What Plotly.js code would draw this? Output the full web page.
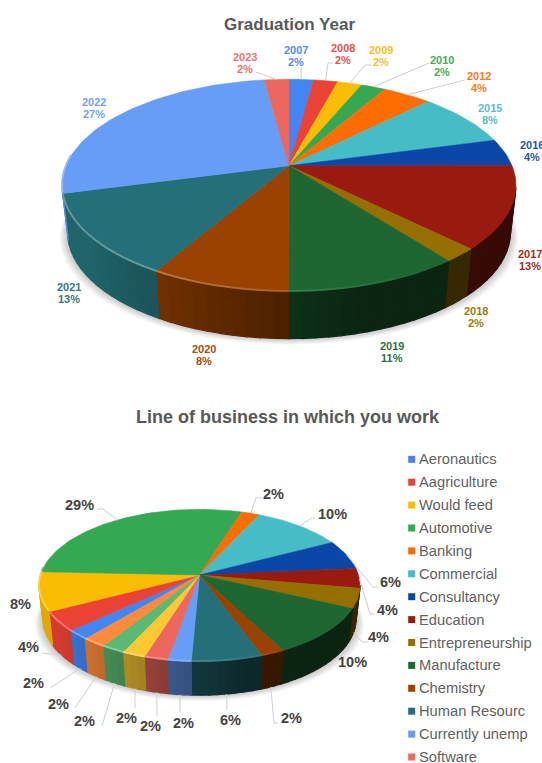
<!DOCTYPE html>
<html>
<head>
<meta charset="utf-8">
<script src="https://cdn.plot.ly/plotly-3.0.1.min.js"></script>
<style>html,body{margin:0;padding:0;background:#fff;overflow:hidden}#chart{width:542px;height:763px}</style>
</head>
<body>
<div id="chart"></div>
<script>
// Survey results: graduation year and line of business.
const gradYears = ['2007','2008','2009','2010','2012','2015','2016','2017','2018','2019','2020','2021','2022','2023'];
const gradShare = [2.08,2.08,2.08,2.08,4.17,8.33,4.17,12.5,2.08,10.5,8.33,12.5,27.08,2.08];
const gradColors = ['#4285f4','#ea4335','#fbbc04','#34a853','#ff6d01','#46bdc6','#0b47a8','#991b10','#957000','#1e6632','#9a4200','#257078','#669df6','#ee675c'];

const businessNames = ['Aeronautics','Aagriculture','Would feed','Automotive','Banking','Commercial','Consultancy','Education','Entrepreneurship','Manufacture','Chemistry','Human Resourc','Currently unemp','Software'];
const businessShare = [2.08,4.17,8.33,29.17,2.08,10.42,6.25,4.17,4.17,10.42,2.08,6.25,2.08,2.08,2.08,2.08,2.08];
const businessColors = ['#4285f4','#ea4335','#fbbc04','#34a853','#ff6d01','#46bdc6','#0b47a8','#991b10','#957000','#1e6632','#9a4200','#257078','#669df6','#ee675c','#fcc934','#5bb974','#ff8a3c'];

// Disc geometry in page pixels: the tilt k makes the near half of the disc larger than the far half.
const gradDisc = {cx:289, cy:165.7, A:223, B:102.5, k:0.1864, depth:47, base:0.975, start:0};
const bizDisc  = {cx:199.5, cy:575, A:159, B:74.75, k:0.1378, depth:33.5, base:0.975, start:220};

// Label placement: [centre x, centre y of first line].
const gradLabelAt = [[296,49.5],[343,47.5],[381,49.5],[442,59.5],[479,76],[490,108],[532,145],[530,254],[476,311],[392,346],[204,349],[69,287],[94,102],[245,57]];
const bizLabelAt = [[33,683],[28,647],[20,604],[79,505],[273,494],[332,514],[390,582],[387,610],[378,637],[352,662],[291,718],[230,720],[183,723],[150,726],[126,718],[84,721],[58,704]];

// Leader routes from a slice's edge to its label.
const gradLeaders = {
  0:{from:'rim',via:[[301,67]]},
  1:{from:'rim',via:[[328,63],[334,63]]},
  2:{from:'rim',via:[[365,65],[372,65]]},
  3:{from:'rim',via:[[429,63]]},
  4:{from:'rim',via:[[465,80]]},
  13:{from:'rim',via:[[256,72]]}
};
const bizLeaders = {
  0:{from:'base',via:[[50,688]]},
  1:{from:'base',via:[[42,653]]},
  3:{from:'rim',via:[[103,509],[97,509]]},
  4:{from:'rim',via:[[256,498],[262,498]]},
  5:{from:'rim',via:[[312,518],[315,518]]},
  6:{from:'rim',via:[[373,587],[378,587]]},
  7:{from:'rim',via:[[370,614],[374,614]]},
  8:{from:'base',via:[[362,642],[368,642]]},
  10:{from:'base',via:[[274,723],[278,723]]},
  11:{from:'base',via:[[227,710]]},
  12:{from:'base',via:[[180,713]]},
  13:{from:'base',via:[[157,716]]},
  14:{from:'base',via:[[135,708]]},
  15:{from:'base',via:[[102,726]]},
  16:{from:'base',via:[[75,708]]}
};

const traces = [];
const annotations = [];
const FONT = 'Liberation Sans, Arial, sans-serif';

function hexToRgb(h){ return [1,3,5].map(i => parseInt(h.substr(i,2),16)); }
function rgbStr(c){ return 'rgb(' + c.map(v => Math.round(Math.min(255,Math.max(0,v)))).join(',') + ')'; }
function scale(h,f){ return rgbStr(hexToRgb(h).map(v => v*f)); }
function tint(h,a){ return rgbStr(hexToRgb(h).map(v => v+(255-v)*a)); }
function clamp(v,a,b){ return Math.max(a,Math.min(b,v)); }

// Point on the rim for a clockwise angle measured from twelve o'clock.
function rim(d,t){
  const u = Math.sin(t), v = Math.cos(t), w = 1 + d.k*v;
  return [d.cx + d.A*u/w, d.cy - d.B*v/w];
}
function floorPt(d,t){
  const p = rim(d,t);
  return [d.cx + (p[0]-d.cx)*d.base, p[1] + d.depth];
}

function poly(xs,ys,color,lw){
  traces.push({type:'scatter',mode:'lines',x:xs,y:ys,fill:'toself',fillcolor:color,
    line:{color:color,width:lw},hoverinfo:'skip',showlegend:false});
}
function stroke(xs,ys,color,width){
  traces.push({type:'scatter',mode:'lines',x:xs,y:ys,line:{color:color,width:width},
    hoverinfo:'skip',showlegend:false});
}

function drawShadow(d){
  const xs = [], ys = [];
  for(let i=0;i<=120;i++){ const p = floorPt(d,i/120*2*Math.PI); xs.push(p[0]); ys.push(p[1]); }
  for(let g=8;g>=1;g--){
    const f = 1 + g/(d.A*d.base);
    traces.push({type:'scatter',mode:'lines',
      x:xs.map(x => d.cx+(x-d.cx)*f),
      y:ys.map(y => y+g*0.75),
      fill:'toself',fillcolor:'rgba(0,0,0,0.028)',line:{width:0},hoverinfo:'skip',showlegend:false});
  }
}

function drawPie(d,share,colors){
  const total = share.reduce((a,b) => a+b,0);
  const t0 = d.start*Math.PI/180;
  const edges = [t0];
  share.forEach(s => edges.push(edges[edges.length-1] + s/total*2*Math.PI));
  const step = 3*Math.PI/180;

  drawShadow(d);

  // Outer wall, shaded from light on the left to dark on the right.
  share.forEach((s,i) => {
    const a = edges[i], b = edges[i+1];
    const n = Math.max(1,Math.ceil((b-a)/step));
    for(let j=0;j<n;j++){
      const t1 = a+(b-a)*j/n, t2 = a+(b-a)*(j+1)/n, tm = (t1+t2)/2;
      if(Math.cos(tm) > -d.k) continue;
      const f = clamp(0.36 + 0.5*(0.25-Math.sin(tm)),0.36,0.9);
      const p1 = rim(d,t1), p2 = rim(d,t2), q1 = floorPt(d,t1), q2 = floorPt(d,t2);
      poly([p1[0],p2[0],q2[0],q1[0],p1[0]],[p1[1],p2[1],q2[1],q1[1],p1[1]],scale(colors[i],f),1.2);
    }
  });

  // Top face.
  share.forEach((s,i) => {
    const a = edges[i], b = edges[i+1];
    const n = Math.max(2,Math.ceil((b-a)/(2*Math.PI/180)));
    const xs = [d.cx], ys = [d.cy];
    for(let j=0;j<=n;j++){ const p = rim(d,a+(b-a)*j/n); xs.push(p[0]); ys.push(p[1]); }
    xs.push(d.cx); ys.push(d.cy);
    poly(xs,ys,colors[i],0.6);
  });

  // Bevel highlight along the near rim.
  share.forEach((s,i) => {
    const a = edges[i], b = edges[i+1];
    const n = Math.max(1,Math.ceil((b-a)/step));
    for(let j=0;j<n;j++){
      const t1 = a+(b-a)*j/n, t2 = a+(b-a)*(j+1)/n, tm = (t1+t2)/2;
      if(Math.cos(tm) > 0.1) continue;
      const glow = clamp(0.3*(0.5-Math.sin(tm)),0,0.3);
      if(glow <= 0.01) continue;
      const p1 = rim(d,t1), p2 = rim(d,t2);
      stroke([p1[0],p2[0]],[p1[1]-0.8,p2[1]-0.8],tint(colors[i],glow),1.8);
    }
  });
  return edges;
}

function drawLeaders(d,edges,routes){
  Object.keys(routes).forEach(k => {
    const i = +k, r = routes[k];
    const tm = (edges[i]+edges[i+1])/2;
    const s = r.from === 'base' ? floorPt(d,tm) : rim(d,tm);
    const pts = [s].concat(r.via);
    stroke(pts.map(p => p[0]),pts.map(p => p[1]),'#cfcfcf',1);
  });
}

function label(x,y,text,size,color){
  annotations.push({xref:'x',yref:'y',x:x,y:y,text:text,showarrow:false,xanchor:'center',yanchor:'middle',
    font:{family:FONT,size:size,color:color}});
}

// Graduation year pie
const gradEdges = drawPie(gradDisc,gradShare,gradColors);
drawLeaders(gradDisc,gradEdges,gradLeaders);
gradYears.forEach((yr,i) => {
  const c = tint(gradColors[i],0.08);
  label(gradLabelAt[i][0],gradLabelAt[i][1],'<b>'+yr+'</b>',11,c);
  label(gradLabelAt[i][0],gradLabelAt[i][1]+12.4,'<b>'+Math.round(gradShare[i])+'%</b>',11,c);
});

// Line of business pie
const bizEdges = drawPie(bizDisc,businessShare,businessColors);
drawLeaders(bizDisc,bizEdges,bizLeaders);
businessShare.forEach((s,i) => {
  label(bizLabelAt[i][0],bizLabelAt[i][1],'<b>'+Math.round(s)+'%</b>',14.5,'#444444');
});

// Legend column
const legendX = 411.7, legendTop = 459.3, legendStep = 22.9;
traces.push({type:'scatter',mode:'markers',
  x:businessNames.map(() => legendX),
  y:businessNames.map((n,i) => legendTop+i*legendStep),
  marker:{symbol:'square',size:7,color:businessColors.slice(0,businessNames.length)},
  hoverinfo:'skip',showlegend:false});
businessNames.forEach((n,i) => {
  annotations.push({xref:'x',yref:'y',x:416.8,y:legendTop+i*legendStep,text:n,showarrow:false,
    xanchor:'left',yanchor:'middle',font:{family:FONT,size:14.7,color:'#626262'}});
});

// Chart titles
label(289,24.5,'<b>Graduation Year</b>',17,'#595959');
label(288,417,'<b>Line of business in which you work</b>',18,'#595959');

Plotly.newPlot('chart',traces,{
  width:542,height:763,margin:{l:0,r:0,t:0,b:0},
  paper_bgcolor:'#ffffff',plot_bgcolor:'#ffffff',showlegend:false,
  xaxis:{range:[0,542],visible:false,fixedrange:true},
  yaxis:{range:[763,0],visible:false,fixedrange:true},
  annotations:annotations
},{displayModeBar:false,staticPlot:true});
</script>
</body>
</html>
